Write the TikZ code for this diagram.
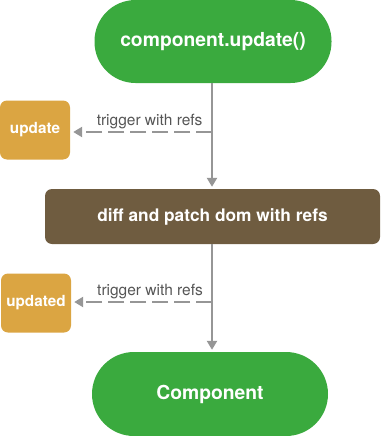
\documentclass[tikz,border=0pt]{standalone}
\usepackage{fontspec}
\setmainfont{TeX Gyre Heros}
\usetikzlibrary{positioning,arrows.meta}

\definecolor{pillgreen}{RGB}{58,170,62}
\definecolor{patchbrown}{RGB}{111,92,64}
\definecolor{hookgold}{RGB}{219,165,66}
\definecolor{linegray}{RGB}{150,150,150}
\definecolor{labelgray}{RGB}{85,85,85}

\tikzset{
  pill/.style={fill=pillgreen, text=white, font=\bfseries\fontsize{19.3}{22}\selectfont,
    minimum width=237pt, minimum height=83pt, rounded corners=41pt},
  patchbox/.style={fill=patchbrown, text=white, font=\bfseries\fontsize{17.3}{20}\selectfont,
    minimum width=335pt, minimum height=55pt, rounded corners=7pt},
  hook/.style={fill=hookgold, text=white, font=\bfseries\fontsize{15.3}{18}\selectfont,
    minimum width=70pt, minimum height=59pt, inner sep=1pt, rounded corners=7pt},
  flow/.style={draw=linegray, line width=2.6pt, -{Triangle[length=9pt,width=10pt]}, shorten >=2pt},
  trig/.style={draw=linegray, line width=2.6pt, dash pattern=on 16pt off 6pt,
    -{Triangle[length=9pt,width=10pt]}, shorten >=3pt},
  triglabel/.style={text=labelgray, font=\fontsize{15.5}{18}\selectfont, inner sep=2pt}
}

\begin{document}
\begin{tikzpicture}[x=1pt, y=-1pt]
  \useasboundingbox (0,0) rectangle (381,436);

  % main chain
  \node[pill] (upd) at (213,41.5) {component.update()};
  \node[patchbox] (patch) at (212.5,216.5) {diff and patch dom with refs};
  \node[pill, minimum width=236pt, minimum height=84pt, rounded corners=42pt] (comp) at (210,394) {Component};

  % hooks fired on the way down
  \node[hook] (hupdate) at (35,130) {update};
  \node[hook] (hupdated) at (36,303) {updated};

  \coordinate (t1) at (212,132);
  \coordinate (t2) at (212,302);

  \draw[flow] (upd.south -| t1) -- (patch.north -| t1);
  \draw[flow] (patch.south -| t1) -- (comp.north -| t1);

  \draw[trig] (t1) -- node[pos=0.44, above, triglabel] {trigger with refs} (t1 -| hupdate.east);
  \draw[trig] (t2) -- node[pos=0.44, above, triglabel] {trigger with refs} (t2 -| hupdated.east);
\end{tikzpicture}
\end{document}
